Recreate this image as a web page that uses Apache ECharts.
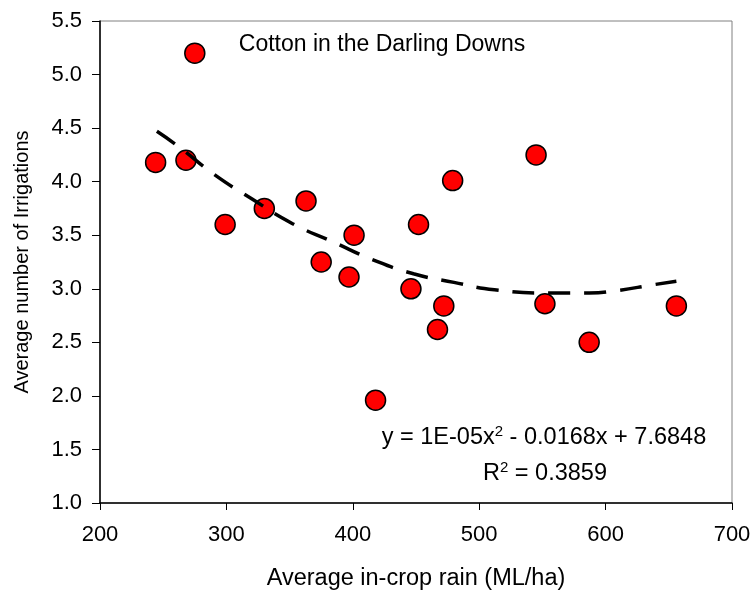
<!DOCTYPE html>
<html>
<head>
<meta charset="utf-8">
<script src="https://cdn.jsdelivr.net/npm/echarts@6/dist/echarts.min.js"></script>
<style>html,body{margin:0;padding:0;background:#fff}#c{width:755px;height:596px}</style>
</head>
<body>
<div id="c"></div>
<script>
var rainX = [244, 268, 275, 299, 330, 363, 375, 397, 401, 418, 446, 452, 467, 472, 479, 545, 552, 587, 656];
var irrigY = [4.18, 4.2, 5.2, 3.6, 3.75, 3.82, 3.25, 3.11, 3.5, 1.96, 3.0, 3.6, 2.62, 2.84, 4.01, 4.25, 2.86, 2.5, 2.84];
// Trend line
var trendX = [245, 263, 290, 320, 352, 384, 416, 448, 480, 512, 556, 587, 607, 639, 656];
var trendY = [4.47, 4.32, 4.07, 3.84, 3.61, 3.44, 3.27, 3.14, 3.06, 2.99, 2.96, 2.96, 2.98, 3.04, 3.07];
// Axis ticks
var xTicks = [200, 300, 400, 500, 600, 700];
var yTicks = [1.0, 1.5, 2.0, 2.5, 3.0, 3.5, 4.0, 4.5, 5.0, 5.5];

var FONT = 'Liberation Sans, Arial, sans-serif';
var chart = echarts.init(document.getElementById('c'), null, {renderer: 'canvas'});
var pts = rainX.map(function (x, i) { return [x, irrigY[i]]; });
var trend = trendX.map(function (x, i) { return [x, trendY[i]]; });

chart.setOption({
  backgroundColor: '#fff',
  animation: false,
  textStyle: {fontFamily: FONT},
  grid: {left: 100, right: 23, top: 21, bottom: 89, show: true, borderColor: '#808080', borderWidth: 1},
  xAxis: {
    type: 'value', min: xTicks[0], max: xTicks[xTicks.length - 1], interval: 100,
    name: 'Average in-crop rain (ML/ha)', nameLocation: 'middle', nameGap: 64,
    nameTextStyle: {fontSize: 23.5, color: '#000', fontFamily: FONT},
    axisLine: {show: true, lineStyle: {color: '#000', width: 1.5}},
    axisTick: {show: true, length: 7, lineStyle: {color: '#000', width: 1}},
    axisLabel: {fontSize: 22, color: '#000', margin: 21, fontFamily: FONT},
    splitLine: {show: false}
  },
  yAxis: {
    type: 'value', min: yTicks[0], max: yTicks[yTicks.length - 1], interval: 0.5,
    name: 'Average number of Irrigations', nameLocation: 'middle', nameGap: 68,
    nameTextStyle: {fontSize: 20, color: '#000', fontFamily: FONT},
    axisLine: {show: true, lineStyle: {color: '#000', width: 1.5}},
    axisTick: {show: true, length: 8, lineStyle: {color: '#000', width: 1}},
    axisLabel: {fontSize: 22, color: '#000', margin: 18, fontFamily: FONT,
      formatter: function (v) { return v.toFixed(1); }},
    splitLine: {show: false}
  },
  series: [
    {
      type: 'scatter', data: pts, symbol: 'circle', symbolSize: 20, z: 2,
      itemStyle: {color: '#ff0000', borderColor: '#000', borderWidth: 1.5, opacity: 1}
    },
    {
      type: 'line', data: trend, smooth: true, symbol: 'none', z: 3,
      lineStyle: {color: '#000', width: 3.5, type: [22, 14]}
    }
  ],
  graphic: [
    {type: 'text', z: 10,
      style: {text: 'Cotton in the Darling Downs', x: 382, y: 45, textAlign: 'center', textVerticalAlign: 'middle', fill: '#000', font: '23px ' + FONT}},
    {type: 'text', z: 10,
      style: {
        text: '{n|y = 1E-05x}{s|2}{n| - 0.0168x + 7.6848}', x: 544, y: 437,
        textAlign: 'center', textVerticalAlign: 'middle', fill: '#000',
        rich: {
          n: {fontSize: 23.5, fontFamily: FONT, color: '#000', lineHeight: 26, verticalAlign: 'bottom'},
          s: {fontSize: 15, fontFamily: FONT, color: '#000', lineHeight: 26, verticalAlign: 'top'}
        }
      }},
    {type: 'text', z: 10,
      style: {
        text: '{n|R}{s|2}{n| = 0.3859}', x: 545, y: 473,
        textAlign: 'center', textVerticalAlign: 'middle', fill: '#000',
        rich: {
          n: {fontSize: 23.5, fontFamily: FONT, color: '#000', lineHeight: 26, verticalAlign: 'bottom'},
          s: {fontSize: 15, fontFamily: FONT, color: '#000', lineHeight: 26, verticalAlign: 'top'}
        }
      }}
  ]
});
</script>
</body>
</html>
